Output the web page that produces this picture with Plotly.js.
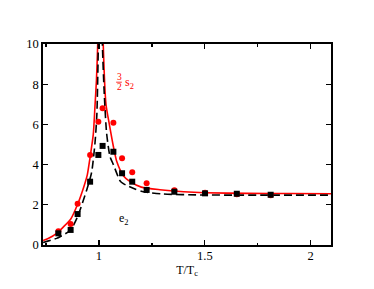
<!DOCTYPE html>
<html>
<head>
<meta charset="utf-8">
<script src="https://cdn.plot.ly/plotly-3.0.1.min.js"></script>
<style>html,body{margin:0;padding:0;background:#fff;}#chart{width:374px;height:289px;}</style>
</head>
<body>
<div id="chart"></div>
<script>
// Data points (s2 scaled by 3/2, red circles) and e2 (black squares)
const pointsT = [0.808, 0.866, 0.899, 0.958, 0.997, 1.017, 1.068, 1.109, 1.157, 1.225, 1.356, 1.501, 1.651, 1.811];
const s2Points = [0.68, 1.04, 2.05, 4.48, 6.13, 6.80, 6.08, 4.31, 3.62, 3.07, 2.72, 2.60, 2.53, 2.48];
const e2Points = [0.58, 0.75, 1.54, 3.15, 4.48, 4.93, 4.64, 3.57, 3.15, 2.74, 2.65, 2.57, 2.55, 2.50];

// Curves
const s2CurveT = [0.736, 0.76, 0.80, 0.83, 0.866, 0.90, 0.93, 0.945, 0.957, 0.973, 0.981, 0.988, 0.994, 0.999, 1.007, 1.015, 1.020, 1.033, 1.049, 1.068, 1.084, 1.115, 1.147, 1.20, 1.288, 1.40, 1.50, 1.70, 1.90, 2.096];
const s2CurveY = [0.22, 0.32, 0.58, 0.88, 1.28, 2.05, 2.95, 3.5, 4.3, 5.5, 6.9, 8.2, 10.0, 13.0, 16.0, 13.0, 10.0, 7.0, 6.0, 4.9, 4.15, 3.45, 3.15, 2.88, 2.75, 2.65, 2.6, 2.57, 2.56, 2.55];
const e2CurveT = [0.736, 0.754, 0.80, 0.816, 0.866, 0.899, 0.942, 0.965, 0.981, 0.99, 0.997, 1.002, 1.007, 1.012, 1.016, 1.025, 1.036, 1.052, 1.068, 1.099, 1.115, 1.17, 1.21, 1.30, 1.477, 1.80, 2.096];
const e2CurveY = [0.12, 0.18, 0.33, 0.41, 0.75, 1.41, 2.74, 3.6, 5.06, 6.5, 10.0, 13.0, 16.0, 13.0, 10.0, 7.5, 5.56, 4.4, 4.0, 3.2, 3.05, 2.78, 2.65, 2.54, 2.49, 2.48, 2.48];

const xTicks = [1, 1.5, 2];
const yTicks = [0, 2, 4, 6, 8, 10];

const serif = "Liberation Serif, Times New Roman, serif";

const traces = [
  {x: s2CurveT, y: s2CurveY, mode: 'lines', line: {color: '#ff0000', width: 1.6, shape: 'spline', smoothing: 0.6}, hoverinfo: 'skip'},
  {x: e2CurveT, y: e2CurveY, mode: 'lines', line: {color: '#000000', width: 1.6, dash: '8px,4px', shape: 'spline', smoothing: 0.6}, hoverinfo: 'skip'},
  {x: pointsT, y: s2Points, mode: 'markers', marker: {symbol: 'circle', color: '#ff0000', size: 6}},
  {x: pointsT, y: e2Points, mode: 'markers', marker: {symbol: 'square', color: '#000000', size: 6}}
];

const axisCommon = {
  showgrid: false, zeroline: false, showline: true, linecolor: '#000', linewidth: 1.8,
  mirror: 'allticks', ticks: 'inside', ticklen: 5, tickwidth: 1.2, tickcolor: '#000',
  tickfont: {family: serif, size: 12.5, color: '#000'}
};

const layout = {
  width: 374, height: 289,
  margin: {l: 43, r: 43, t: 44, b: 44},
  paper_bgcolor: '#fff', plot_bgcolor: '#fff',
  showlegend: false,
  xaxis: Object.assign({}, axisCommon, {
    range: [0.7355, 2.096], tickvals: xTicks, ticktext: xTicks.map(String),
    ticklabelstandoff: -2,
    minor: {tickvals: [0.75, 1.25, 1.75], ticklen: 2.5, tickwidth: 1.2, tickcolor: '#000', ticks: 'inside'},
    title: {text: 'T/T<sub>c</sub>', font: {family: serif, size: 12, color: '#000'}, standoff: 0}
  }),
  yaxis: Object.assign({}, axisCommon, {
    range: [0, 10], tickvals: yTicks, ticktext: yTicks.map(String)
  }),
  annotations: [
    {x: 1.0945, y: 8.35, xref: 'x', yref: 'y', text: '3', showarrow: false, font: {family: serif, size: 9.5, color: '#ff0000'}},
    {x: 1.0945, y: 7.84, xref: 'x', yref: 'y', text: '2', showarrow: false, font: {family: serif, size: 9.5, color: '#ff0000'}},
    {x: 1.143, y: 8.05, xref: 'x', yref: 'y', text: 's<sub>2</sub>', showarrow: false, font: {family: serif, size: 12, color: '#ff0000'}},
    {x: 1.12, y: 1.28, xref: 'x', yref: 'y', text: 'e<sub>2</sub>', showarrow: false, font: {family: serif, size: 12, color: '#000'}}
  ],
  shapes: [
    {type: 'line', xref: 'x', yref: 'y', x0: 1.081, x1: 1.108, y0: 8.1, y1: 8.1, line: {color: '#ff0000', width: 0.8}}
  ]
};

Plotly.newPlot('chart', traces, layout, {displayModeBar: false, staticPlot: true});
</script>
</body>
</html>
